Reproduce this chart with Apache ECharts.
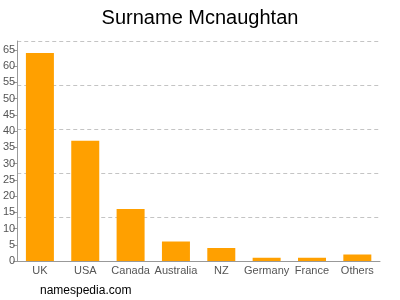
<!DOCTYPE html>
<html><head><meta charset="utf-8">
<script src="https://cdn.jsdelivr.net/npm/echarts@6/dist/echarts.min.js"></script>
<style>html,body{margin:0;padding:0;background:#fff}#c{width:400px;height:300px}</style>
</head><body><div id="c"></div>
<script>
var categories = ['UK','USA','Canada','Australia','NZ','Germany','France','Others'];
var counts = [64, 37, 16, 6, 4, 1, 1, 2];
var yTicks = [0,5,10,15,20,25,30,35,40,45,50,55,60,65];
var yMax = 67.7;
var gridSteps = 5;

var chart = echarts.init(document.getElementById('c'), null, {renderer:'canvas'});
var font = "'Liberation Sans', Arial, sans-serif";
chart.setOption({
  animation: false,
  textStyle: {fontFamily: font},
  title: {text: 'Surname Mcnaughtan', left: 'center', top: 3,
    textStyle: {fontFamily: font, fontSize: 20, fontWeight: 'normal', color: '#000'}},
  graphic: [{type: 'text', left: 40, top: 285,
    style: {text: 'namespedia.com', font: "12px 'Liberation Sans', Arial, sans-serif", fill: '#000'}}],
  grid: {left: 17, right: 20, top: 41, bottom: 39, containLabel: false},
  xAxis: {type: 'category', data: categories,
    axisLine: {lineStyle: {color: '#999'}},
    axisTick: {alignWithLabel: true, length: 4, lineStyle: {color: '#999'}},
    axisLabel: {color: '#555', fontSize: 11, margin: 4, interval: 0, fontFamily: font}},
  yAxis: [{type: 'value', min: 0, max: yMax,
    axisLine: {show: true, lineStyle: {color: '#999'}},
    axisTick: {show: true, length: 4, customValues: yTicks, lineStyle: {color: '#999'}},
    axisLabel: {color: '#555', fontSize: 11, margin: 2, customValues: yTicks, fontFamily: font},
    splitLine: {show: false}},
   {type: 'value', min: 0, max: yMax, interval: yMax / gridSteps, position: 'left',
    axisLine: {show: false}, axisTick: {show: false}, axisLabel: {show: false},
    splitLine: {show: true, lineStyle: {color: '#c4c4c4', type: [4, 3]}}}],
  series: [{type: 'bar', data: counts, yAxisIndex: 0, barWidth: 28,
    itemStyle: {color: '#ffa000'}}]
});
</script></body></html>
